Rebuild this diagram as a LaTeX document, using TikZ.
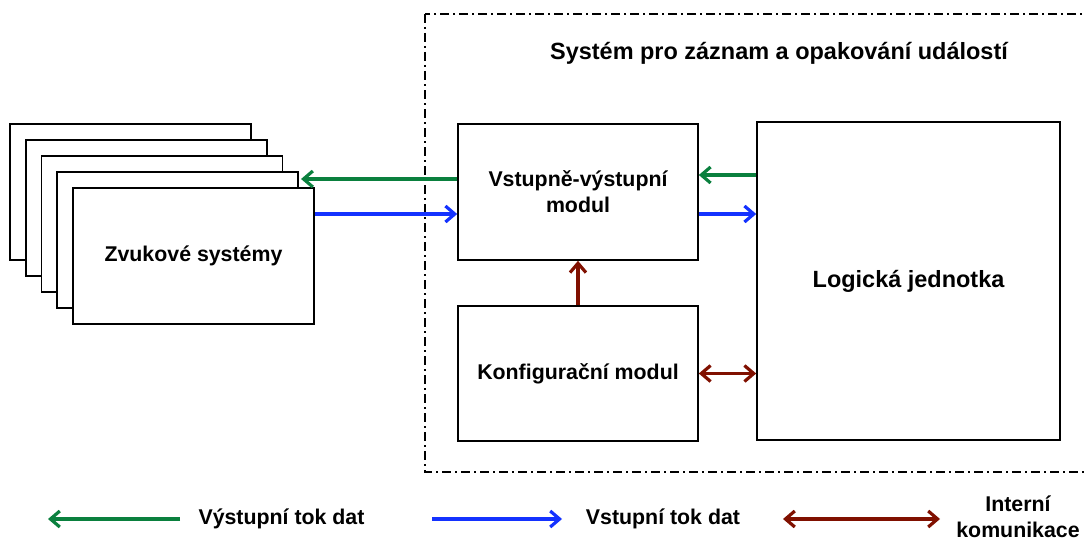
\documentclass[tikz,border=0pt]{standalone}
\usepackage{fontspec}
\setmainfont{Liberation Sans}
\usetikzlibrary{arrows.meta}
\definecolor{outgreen}{RGB}{10,128,62}
\definecolor{inblue}{RGB}{20,50,255}
\definecolor{intred}{RGB}{128,16,0}
\tikzset{
  box/.style={draw, line width=1.2pt, fill=white, align=center},
  sysbox/.style={box, minimum width=180.75pt, minimum height=102pt},
  modbox/.style={box, minimum width=180pt, minimum height=102pt},
  barb/.tip={Straight Barb[length=7pt,width=12pt,line width=2.4pt]},
  outflow/.style={draw=outgreen, line width=2.4pt, -barb},
  inflow/.style={draw=inblue, line width=2.4pt, -barb},
  internal/.style={draw=intred, line width=2.4pt, -barb},
  internalboth/.style={draw=intred, line width=2.4pt, barb-barb}
}
\begin{document}
\begin{tikzpicture}[x=0.75pt, y=-0.75pt, font=\fontsize{16pt}{19.5pt}\selectfont\bfseries]
  \useasboundingbox (0,0) rectangle (1084,542);
  % system boundary
  \draw[line width=1pt, dash pattern=on 6.75pt off 3pt on 1.5pt off 3pt] (425,14) rectangle (1100,472);
  \node[font=\fontsize{17.6pt}{21pt}\selectfont\bfseries] (title) at (779,53) {Systém pro záznam a opakování událostí};
  % sound systems stack
  \foreach \i in {1,...,4}
    \node[sysbox] (s\i) at ({130.5+15.75*(\i-1)}, {192+16*(\i-1)}) {};
  \node[sysbox] (s5) at (193.5,256) {Zvukové systémy};
  % modules
  \node[modbox] (io) at (578,192) {Vstupně-výstupní\\modul};
  \node[modbox, minimum height=101.25pt] (cfg) at (578,373.5) {Konfigurační modul};
  \node[box, minimum width=227.25pt, minimum height=238.5pt, font=\fontsize{17.6pt}{21pt}\selectfont\bfseries] (logic) at (908.5,281) {Logická jednotka};
  % data flows
  \coordinate (ioOut) at ([yshift=9.75pt]io.west);
  \coordinate (ioIn) at ([yshift=-16.5pt]io.west);
  \coordinate (lgOut) at ([yshift=12.75pt]io.east);
  \coordinate (lgIn) at ([yshift=-16.5pt]io.east);
  \draw[outflow] (ioOut) -- ([xshift=1.5pt]ioOut -| s4.east);
  \draw[inflow] (ioIn -| s5.east) -- (ioIn);
  \draw[outflow] (lgOut -| logic.west) -- (lgOut);
  \draw[inflow] (lgIn) -- (lgIn -| logic.west);
  \draw[internal] (cfg.north) -- (io.south);
  \draw[internalboth] (cfg.east) -- (cfg.east -| logic.west);
  % legend
  \coordinate (lgOutA) at (180,519);
  \coordinate (lgOutB) at (48,519);
  \coordinate (lgInA) at (432,519);
  \coordinate (lgInB) at (562,519);
  \coordinate (lgIntA) at (783,519);
  \coordinate (lgIntB) at (940,519);
  \draw[outflow] (lgOutA) -- (lgOutB);
  \node (lgOutText) at (281.5,519) {Výstupní tok dat};
  \draw[inflow] (lgInA) -- (lgInB);
  \node (lgInText) at (663,519) {Vstupní tok dat};
  \draw[internalboth] (lgIntA) -- (lgIntB);
  \node[align=center] (lgIntText) at (1018,517) {Interní\\komunikace};
\end{tikzpicture}
\end{document}
